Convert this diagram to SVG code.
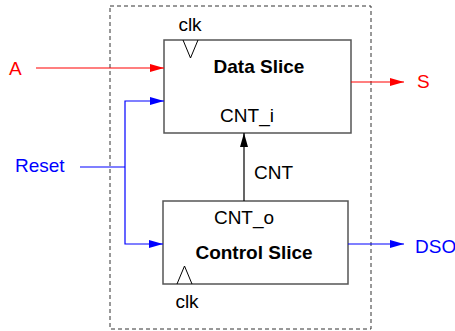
<svg xmlns="http://www.w3.org/2000/svg" width="455" height="331" viewBox="0 0 455 331">
<defs>
<marker id="ar-r" viewBox="0 0 14 8" refX="14" refY="4" markerWidth="14" markerHeight="8" markerUnits="userSpaceOnUse" orient="auto"><path d="M0,0 L14,4 L0,8 z" fill="#ff0000"/></marker>
<marker id="ar-b" viewBox="0 0 14 8" refX="14" refY="4" markerWidth="14" markerHeight="8" markerUnits="userSpaceOnUse" orient="auto"><path d="M0,0 L14,4 L0,8 z" fill="#0000ff"/></marker>
<marker id="ar-k" viewBox="0 0 14 8" refX="14" refY="4" markerWidth="14" markerHeight="8" markerUnits="userSpaceOnUse" orient="auto"><path d="M0,0 L14,4 L0,8 z" fill="#000"/></marker>
</defs>
<style>
text{font-family:"Liberation Sans",Arial,sans-serif;font-size:19px}
.b{font-weight:bold}
.box{fill:#fff;stroke:#555;stroke-width:1.5}
.clk{fill:none;stroke:#000;stroke-width:1}
.red{stroke:#ff0000;stroke-width:1.2;fill:none}
.blue{stroke:#0000ff;stroke-width:1.2;fill:none}
.blk{stroke:#000;stroke-width:1.2;fill:none}
</style>
<rect id="boundary" x="110" y="6" width="261" height="323" fill="none" stroke="#333" stroke-width="1" stroke-dasharray="4,3"/>
<g id="data-slice">
<rect class="box" x="164" y="40" width="187" height="93"/>
<path class="clk" d="M183,40 L190.5,58 L198,40"/>
<text x="190" y="31" text-anchor="middle">clk</text>
<text class="b" x="259" y="73" text-anchor="middle">Data Slice</text>
<text x="247" y="122" text-anchor="middle">CNT_i</text>
</g>
<g id="control-slice">
<rect class="box" x="163" y="201" width="185" height="83"/>
<path class="clk" d="M177,284 L184.5,266 L192,284"/>
<text x="187" y="308" text-anchor="middle">clk</text>
<text x="244" y="224" text-anchor="middle">CNT_o</text>
<text class="b" x="254" y="259" text-anchor="middle">Control Slice</text>
</g>
<g id="labels">
<text x="9" y="75" fill="#ff0000">A</text>
<text x="15" y="172" fill="#0000ff">Reset</text>
<text x="417" y="88" fill="#ff0000">S</text>
<text x="415" y="253" fill="#0000ff">DSO</text>
<text x="254" y="179">CNT</text>
</g>
<g id="connectors">
<path class="red" d="M36,68 H164" marker-end="url(#ar-r)"/>
<path class="red" d="M351,82 H404" marker-end="url(#ar-r)"/>
<path class="blue" d="M80,167 H125"/>
<path class="blue" d="M125,167 V101 H164" marker-end="url(#ar-b)"/>
<path class="blue" d="M125,167 V244 H163" marker-end="url(#ar-b)"/>
<path class="blue" d="M348,244 H404" marker-end="url(#ar-b)"/>
<path class="blk" d="M244,201 V133" marker-end="url(#ar-k)"/>
</g>
</svg>
